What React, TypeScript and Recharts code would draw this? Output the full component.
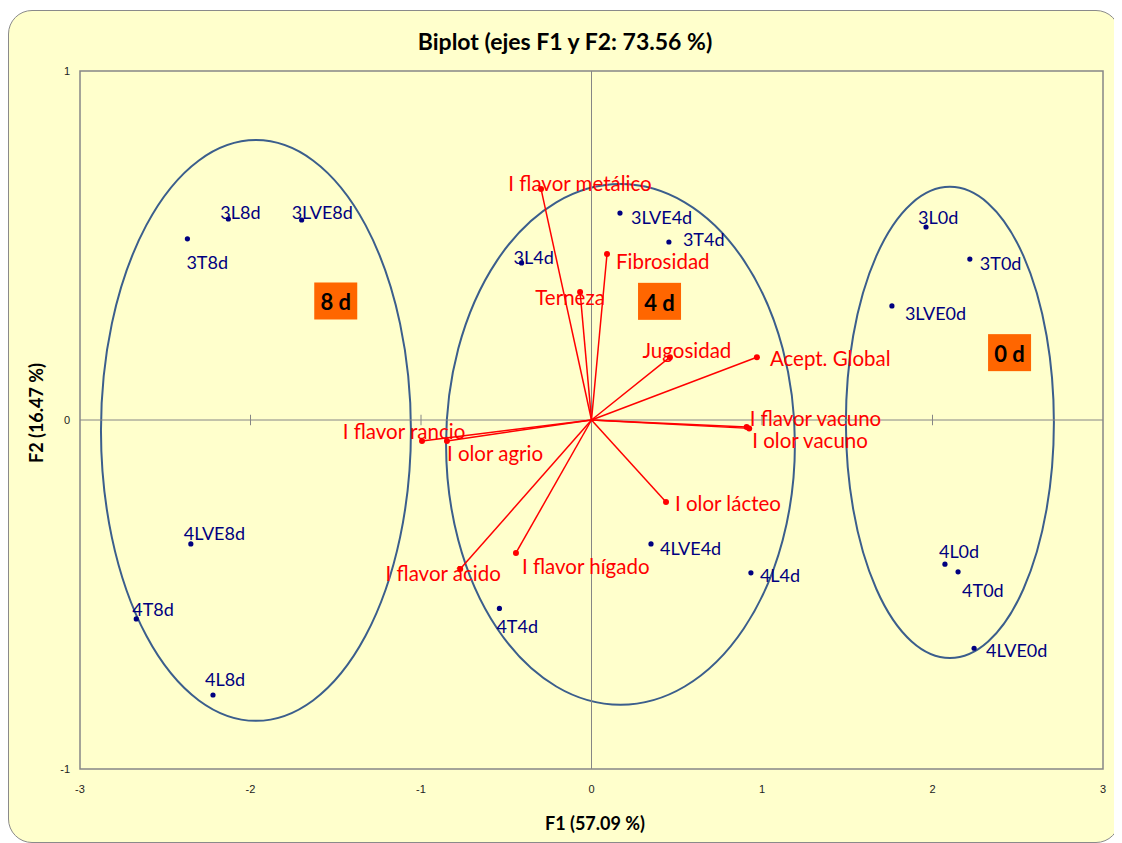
import React from 'react';
import {
  ScatterChart, Scatter, XAxis, YAxis, ReferenceArea, ReferenceLine, ReferenceDot,
} from 'recharts';

// ---- Observations (F1, F2) ----
const obsNames = ['3L8d', '3LVE8d', '3T8d', '4LVE8d', '4T8d', '4L8d', '3L4d', '3LVE4d', '3T4d', '4LVE4d', '4L4d', '4T4d', '3L0d', '3T0d', '3LVE0d', '4L0d', '4T0d', '4LVE0d'];
const obsF1 = [-2.13, -1.70, -2.37, -2.35, -2.67, -2.22, -0.41, 0.167, 0.454, 0.349, 0.935, -0.54, 1.962, 2.219, 1.762, 2.073, 2.15, 2.244];
const obsF2 = [0.576, 0.573, 0.519, -0.355, -0.570, -0.788, 0.450, 0.593, 0.510, -0.355, -0.438, -0.540, 0.553, 0.461, 0.327, -0.413, -0.435, -0.654];

// ---- Variables (F1, F2) ----
const varNames = ['I flavor metálico', 'Fibrosidad', 'Terneza', 'Jugosidad', 'Acept. Global', 'I flavor vacuno', 'I olor vacuno', 'I flavor rancio', 'I olor agrio', 'I olor lácteo', 'I flavor hígado', 'I flavor ácido'];
const varF1 = [-0.296, 0.091, -0.067, 0.46, 0.97, 0.91, 0.925, -0.994, -0.848, 0.437, -0.443, -0.77];
const varF2 = [0.662, 0.476, 0.367, 0.18, 0.18, -0.02, -0.024, -0.060, -0.060, -0.235, -0.381, -0.427];

// ---- Group ellipses (center F1, center F2, radius F1, radius F2) ----
const groupCx = [-1.968, 0.170, 2.102];
const groupCy = [-0.030, -0.070, -0.007];
const groupRx = [0.909, 1.023, 0.610];
const groupRy = [0.832, 0.746, 0.675];

// ---- Group tags ----
const tagText = ['8 d', '4 d', '0 d'];
const tagF1 = [-1.50, 0.399, 2.452];
const tagF2 = [0.341, 0.340, 0.193];

// ---- Axis ticks ----
const xTicks = [-3, -2, -1, 0, 1, 2, 3];
const yTicks = [-1, 0, 1];
const zeroAxisMarks = [-2, -1, 1, 2];

// ---- label placement (styling) ----
const obsLabelPos: Record<string, [string, number, number]> = {
  '3L8d': ['start', -8, -7], '3LVE8d': ['start', -10, -8], '3T8d': ['start', -1, 23],
  '4LVE8d': ['start', -7, -11], '4T8d': ['start', -4, -10], '4L8d': ['start', -8, -16],
  '3L4d': ['start', -8, -6], '3LVE4d': ['start', 11, 4], '3T4d': ['start', 14, -3],
  '4LVE4d': ['start', 9, 4], '4L4d': ['start', 9, 2], '4T4d': ['start', -3, 18],
  '3L0d': ['start', -8, -10], '3T0d': ['start', 10, 4], '3LVE0d': ['start', 13, 7],
  '4L0d': ['start', -6, -13], '4T0d': ['start', 4, 18], '4LVE0d': ['start', 12, 2],
};
const varLabelPos: Record<string, [string, number, number]> = {
  'I flavor metálico': ['middle', 39, -6], 'Fibrosidad': ['start', 9, 7], 'Terneza': ['middle', -10, 5],
  'Jugosidad': ['middle', 17, -7], 'Acept. Global': ['start', 13, 1], 'I flavor vacuno': ['start', 3, -9],
  'I olor vacuno': ['start', 3, 12], 'I flavor rancio': ['middle', -18, -10], 'I olor agrio': ['start', 0, 12],
  'I olor lácteo': ['start', 9, 1], 'I flavor hígado': ['start', 6, 13], 'I flavor ácido': ['middle', -17, 4],
};

const obsData = obsNames.map((name, i) => ({ x: obsF1[i], y: obsF2[i], name }));
const varData = varNames.map((name, i) => ({ x: varF1[i], y: varF2[i], name }));

const FONT = 'Lato, "Open Sans", sans-serif';
const NAVY = '#000080';
const RED = '#FF0000';
const ELLIPSE = '#3B5E8C';
const GRAY = '#868686';

const ObsShape = (props: any) => {
  const { cx, cy, payload } = props;
  const [anchor, dx, dy] = obsLabelPos[payload.name] || ['start', 8, 0];
  return (
    <g>
      <circle cx={cx} cy={cy} r={2.6} fill={NAVY} />
      <text x={cx + dx} y={cy + dy} textAnchor={anchor as any} dominantBaseline="central"
        fontFamily={FONT} fontSize={18} fill={NAVY}>{payload.name}</text>
    </g>
  );
};

const VarShape = (props: any) => {
  const { cx, cy, payload } = props;
  const [anchor, dx, dy] = varLabelPos[payload.name] || ['start', 8, 0];
  return (
    <g>
      <circle cx={cx} cy={cy} r={3} fill={RED} />
      <text x={cx + dx} y={cy + dy} textAnchor={anchor as any} dominantBaseline="central"
        fontFamily={FONT} fontSize={20.5} fill={RED}>{payload.name}</text>
    </g>
  );
};

const EllipseShape = (props: any) => {
  const { x, y, width, height } = props;
  return (
    <ellipse cx={x + width / 2} cy={y + height / 2} rx={Math.abs(width / 2)} ry={Math.abs(height / 2)}
      fill="none" stroke={ELLIPSE} strokeWidth={2} />
  );
};

const makeTag = (label: string) => (props: any) => {
  const { cx, cy } = props;
  return (
    <g>
      <rect x={cx - 21.5} y={cy - 18.5} width={43} height={37} fill="#FF6600" />
      <text x={cx} y={cy + 1} textAnchor="middle" dominantBaseline="central" fontFamily={FONT}
        fontWeight="bold" fontSize={22} fill="#000">{label}</text>
    </g>
  );
};

export default function App() {
  return (
    <div style={{ position: 'relative', width: 1112, height: 833, marginTop: 2 }}>
      <div style={{
        position: 'absolute', left: 0, top: 0, width: 1112, height: 833, boxSizing: 'border-box',
        border: '1.5px solid #8a8a8a', borderRadius: 24, background: '#FFFFCC',
      }} />
      <div style={{ position: 'absolute', left: 0, top: 0 }}>
        <ScatterChart width={1112} height={833} margin={{ top: 61, right: 17, bottom: 44, left: 12 }}>
          <XAxis type="number" dataKey="x" domain={[-3, 3]} ticks={xTicks} allowDataOverflow
            axisLine={false} tickLine={false} tickSize={6} tickMargin={10} height={30}
            tick={{ fontFamily: 'Liberation Sans, Arial, sans-serif', fontSize: 11, fill: '#222' }} />
          <YAxis type="number" dataKey="y" domain={[-1, 1]} ticks={yTicks} allowDataOverflow
            axisLine={false} tickLine={false} tickSize={6} tickMargin={4} width={60}
            tick={{ fontFamily: 'Liberation Sans, Arial, sans-serif', fontSize: 11, fill: '#222' }} />
          <ReferenceArea x1={-3} x2={3} y1={-1} y2={1} fill="none" stroke={GRAY} strokeWidth={1.5} fillOpacity={0} />
          <ReferenceLine x={0} stroke={GRAY} strokeWidth={1} />
          <ReferenceLine y={0} stroke={GRAY} strokeWidth={1} />
          {zeroAxisMarks.map((m) => (
            <ReferenceLine key={'mx' + m} segment={[{ x: m, y: -0.015 }, { x: m, y: 0.015 }]} stroke={GRAY} strokeWidth={1} />
          ))}
          {groupCx.map((c, i) => (
            <ReferenceArea key={'el' + i} x1={c - groupRx[i]} x2={c + groupRx[i]}
              y1={groupCy[i] - groupRy[i]} y2={groupCy[i] + groupRy[i]} shape={EllipseShape} ifOverflow="visible" />
          ))}
          {varData.map((v) => (
            <ReferenceLine key={'vl' + v.name} segment={[{ x: 0, y: 0 }, { x: v.x, y: v.y }]} stroke={RED} strokeWidth={1.5} />
          ))}
          {tagText.map((t, i) => (
            <ReferenceDot key={'tg' + i} x={tagF1[i]} y={tagF2[i]} r={1} shape={makeTag(t)} />
          ))}
          <Scatter data={varData} shape={VarShape} isAnimationActive={false} />
          <Scatter data={obsData} shape={ObsShape} isAnimationActive={false} />
        </ScatterChart>
      </div>
      <div style={{
        position: 'absolute', left: 557, top: 31, transform: 'translate(-50%, -50%)', whiteSpace: 'nowrap',
        fontFamily: FONT, fontWeight: 'bold', fontSize: 23, color: '#000',
      }}>Biplot (ejes F1 y F2: 73.56 %)</div>
      <div style={{
        position: 'absolute', left: 587, top: 813, transform: 'translate(-50%, -50%)', whiteSpace: 'nowrap',
        fontFamily: FONT, fontWeight: 'bold', fontSize: 18, color: '#000',
      }}>F1 (57.09 %)</div>
      <div style={{
        position: 'absolute', left: 28, top: 403, transform: 'translate(-50%, -50%) rotate(-90deg)', whiteSpace: 'nowrap',
        fontFamily: FONT, fontWeight: 'bold', fontSize: 18, color: '#000',
      }}>F2 (16.47 %)</div>
    </div>
  );
}
